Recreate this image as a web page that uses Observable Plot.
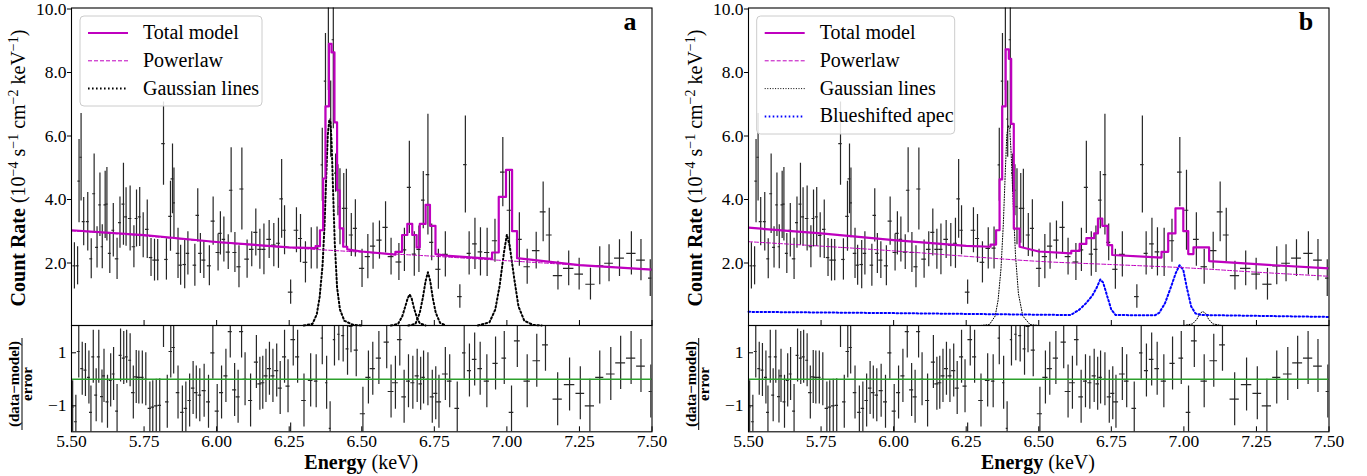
<!DOCTYPE html>
<html><head><meta charset="utf-8">
<script src="https://cdn.jsdelivr.net/npm/d3@7"></script>
<script src="https://cdn.jsdelivr.net/npm/@observablehq/plot@0.6"></script>
<style>
body{margin:0;background:#fff;font-family:"Liberation Serif",serif;}
#wrap{position:relative;width:1367px;height:476px;overflow:hidden;background:#fff;}
#wrap svg{position:absolute;}
#wrap text{font-family:"Liberation Serif",serif;}
</style></head><body><div id="wrap"></div>
<script>
// ---------- tick labels ----------
const xTickValues = [5.5, 5.75, 6.0, 6.25, 6.5, 6.75, 7.0, 7.25, 7.5];
const rateTicks = [2, 4, 6, 8, 10];
const residTicks = [-1, 1];

// ---------- spectrum data (same spectrum in both panels) ----------
const energy = [5.510,5.521,5.526,5.533,5.542,5.556,5.568,5.578,5.588,5.598,
5.606,5.616,5.622,5.632,5.644,5.657,5.667,5.679,5.688,5.702,
5.715,5.724,5.735,5.747,5.761,5.774,5.786,5.797,5.817,5.827,
5.841,5.848,5.853,5.867,5.876,5.890,5.901,5.925,5.935,5.944,
5.956,5.975,5.988,6.005,6.013,6.025,6.040,6.050,6.063,6.077,
6.087,6.105,6.121,6.135,6.149,6.163,6.181,6.197,6.213,6.224,
6.234,6.255,6.275,6.289,6.306,6.326,6.346,6.364,6.375,6.385,
6.393,6.402,6.410,6.418,6.425,6.438,6.447,6.464,6.478,6.501,
6.521,6.539,6.561,6.582,6.601,6.628,6.647,6.664,6.681,6.697,
6.712,6.728,6.741,6.764,6.788,6.838,6.857,6.870,6.890,6.909,
6.932,6.959,6.986,7.009,7.043,7.070,7.101,7.125,7.146,7.176,
7.213,7.249,7.288,7.320,7.352,7.388,7.429,7.462,7.494];
const rate = [1.88,1.88,4.55,5.30,3.27,3.27,2.10,4.15,2.46,3.80,
2.48,3.80,3.82,2.27,3.00,2.10,3.24,3.82,3.42,3.37,
2.48,3.37,3.42,2.84,3.03,2.14,2.06,2.06,5.73,2.08,
3.44,4.62,3.86,2.27,1.90,1.92,2.27,1.90,3.47,2.27,
2.06,1.88,3.29,2.30,2.90,2.71,2.31,4.26,2.30,1.85,
4.30,2.09,2.40,2.93,2.40,2.40,2.71,2.53,2.59,3.99,
3.00,1.05,3.00,2.74,1.99,2.43,2.44,5.06,7.70,10.4,
6.50,9.00,4.80,4.26,3.74,3.69,3.69,2.85,3.06,1.80,
2.17,2.50,2.69,3.09,2.17,2.00,2.38,4.35,2.25,2.40,
3.95,4.75,2.62,1.77,2.24,0.91,5.07,2.27,2.57,2.32,
2.30,2.67,4.83,3.63,2.71,1.85,2.36,3.58,2.85,1.57,
1.80,1.62,1.30,1.88,1.96,2.12,2.27,2.06,1.49];
const rateErr = [0.73,0.60,1.31,1.38,0.76,0.92,0.63,1.25,0.65,1.00,
0.69,1.06,1.16,0.63,0.84,0.65,0.81,1.29,0.92,1.02,
0.66,0.90,0.93,0.71,0.92,0.60,0.66,0.65,1.31,0.65,
1.10,1.10,1.10,0.79,0.63,0.76,0.68,0.66,0.84,0.63,
0.58,0.63,0.76,0.58,0.68,0.71,0.55,1.34,0.63,0.66,
1.29,0.60,0.55,0.74,0.63,0.80,0.60,0.68,0.79,1.24,
0.77,0.38,0.71,0.76,0.65,0.65,0.66,1.15,1.50,3.00,
1.20,2.80,0.60,0.80,1.20,1.10,1.23,0.68,0.90,0.60,
0.70,0.73,0.60,0.81,0.58,0.58,0.68,1.45,0.70,0.73,
0.90,1.90,0.58,0.63,0.71,0.37,1.53,0.68,0.81,0.76,
0.76,0.68,1.09,1.26,0.84,0.55,0.58,0.94,0.84,0.45,
0.55,0.50,0.50,0.60,0.58,0.58,0.68,0.65,0.58];
const halfWidth = [.005,.005,.004,.004,.005,.005,.005,.005,.005,.004,
.004,.004,.004,.005,.005,.006,.005,.005,.005,.006,
.006,.005,.005,.006,.006,.006,.006,.006,.006,.006,
.006,.005,.005,.006,.006,.006,.006,.006,.006,.006,
.007,.007,.007,.007,.006,.006,.007,.006,.007,.007,
.007,.008,.008,.007,.007,.007,.008,.008,.007,.006,
.006,.008,.008,.007,.008,.008,.007,.004,.004,.004,
.003,.004,.004,.004,.004,.005,.005,.007,.007,.009,
.009,.009,.009,.009,.010,.010,.008,.007,.007,.007,
.006,.006,.007,.009,.010,.008,.006,.007,.008,.008,
.009,.009,.008,.008,.010,.011,.013,.010,.010,.016,
.018,.015,.016,.014,.015,.017,.016,.015,.006];

// ---------- residuals (data-model)/error ----------
const residEnergy = [5.504,5.515,5.525,5.537,5.548,5.560,5.567,5.575,5.585,5.594,
5.605,5.612,5.624,5.635,5.645,5.657,5.669,5.680,5.690,5.702,
5.713,5.723,5.732,5.744,5.756,5.770,5.780,5.792,5.804,5.817,
5.830,5.842,5.852,5.867,5.882,5.894,5.907,5.919,5.930,5.942,
5.957,5.972,5.987,6.002,6.017,6.032,6.047,6.062,6.074,6.086,
6.098,6.117,6.137,6.149,6.159,6.170,6.182,6.194,6.207,6.219,
6.234,6.246,6.264,6.279,6.301,6.324,6.343,6.364,6.379,6.391,
6.406,6.421,6.436,6.451,6.463,6.481,6.504,6.523,6.538,6.559,
6.586,6.601,6.616,6.631,6.646,6.661,6.676,6.691,6.703,6.713,
6.728,6.743,6.755,6.766,6.788,6.803,6.829,6.853,6.871,6.889,
6.908,6.931,6.961,6.991,7.016,7.036,7.070,7.103,7.133,7.175,
7.216,7.253,7.286,7.320,7.358,7.392,7.428,7.462,7.496,6.255];
const residValue = [-1.05,-1.6,1.05,0.4,0.35,0.07,-1.25,0.85,-0.6,0.85,
-0.65,0.13,-0.85,-0.04,0.2,-1.2,0.9,0.8,0.85,0.72,
-0.5,0.09,0.07,0.07,0,-1.1,-1.05,-1.0,-0.98,2.2,
-0.85,1.05,1.2,-0.5,-1.25,-1.1,-0.8,-0.33,-0.5,-0.6,
-0.43,-0.85,1.0,-1.2,-0.5,0.13,1.8,-0.4,-0.66,1.8,
0,-0.8,0.65,-0.17,-0.13,0.13,0.4,0.13,0.33,-0.33,
0.85,-0.26,1.5,0.85,-0.8,-0.04,-0.07,1.55,-0.13,-1.85,
1.5,1.7,1.65,1.15,2.0,1.1,-1.3,0.07,0.4,0.8,
1.4,-0.46,-0.13,1.5,-0.66,-0.07,-0.13,0.13,-0.17,0.07,
0,-0.66,-0.53,-0.85,0.2,-0.07,-1.1,1.0,0.33,0.75,
0.4,-0.07,0.6,0.8,-1.25,1.45,-0.07,0.7,1.3,-0.75,
-0.2,-0.53,-1.0,0.07,0.2,0.62,0.8,0.5,-0.46,-2.65];
const residHalf = [.005,.005,.005,.005,.005,.005,.005,.005,.005,.005,
.005,.005,.005,.005,.005,.005,.005,.005,.005,.005,
.006,.006,.006,.006,.006,.006,.006,.006,.006,.006,
.006,.006,.006,.006,.006,.006,.006,.006,.006,.006,
.007,.007,.007,.007,.007,.007,.007,.007,.007,.007,
.007,.007,.007,.007,.007,.007,.007,.007,.007,.007,
.007,.007,.008,.007,.008,.008,.006,.004,.004,.003,
.004,.004,.005,.005,.007,.007,.009,.009,.009,.009,
.009,.010,.010,.008,.008,.007,.007,.007,.006,.006,
.006,.007,.007,.009,.010,.008,.008,.006,.007,.008,
.008,.009,.009,.008,.008,.010,.011,.013,.010,.016,
.018,.015,.016,.014,.015,.017,.016,.015,.006,.008];
const residError = 1;

// ---------- model a ----------
const totalA_E = [5.5,5.75,6.0,6.25,6.341,6.341,6.356,6.356,6.367,6.367,6.375,6.375,6.387,6.387,6.396,6.396,6.406,6.406,6.415,6.415,6.424,6.424,6.436,6.436,6.45,6.45,6.5,6.616,6.616,6.639,6.639,6.657,6.657,6.674,6.674,6.689,6.689,6.70,6.70,6.72,6.72,6.735,6.735,6.754,6.754,6.8,6.949,6.949,6.972,6.972,6.997,6.997,7.018,7.018,7.035,7.035,7.25,7.5];
const totalA_V = [3.0,2.85,2.63,2.46,2.44,2.5,2.5,3.0,3.0,4.63,4.63,6.9,6.9,8.87,8.87,8.6,8.6,6.4,6.4,4.26,4.26,3.06,3.06,2.48,2.48,2.4,2.33,2.23,2.32,2.32,2.85,2.85,3.2,3.2,2.85,2.85,2.46,2.46,3.2,3.2,3.8,3.8,3.14,3.14,2.25,2.19,2.1,2.3,2.3,4.05,4.05,4.9,4.9,2.97,2.97,2.12,1.9,1.76];
const powerlawA_E = [5.5,5.75,6.0,6.25,6.5,6.75,7.0,7.25,7.5];
const powerlawA_V = [2.98,2.82,2.62,2.45,2.31,2.18,2.04,1.9,1.76];
const gaussA_lines = [
  {E:[6.30,6.33,6.345,6.355,6.365,6.372,6.378,6.383,6.388,6.392,6.396,6.401,6.407,6.415,6.425,6.44,6.47,6.5],
   V:[0,0.05,0.35,0.9,1.9,3.2,4.8,6.0,6.45,6.45,5.8,4.3,2.6,1.2,0.5,0.15,0.02,0]},
  {E:[6.60,6.625,6.64,6.65,6.658,6.665,6.672,6.68,6.69,6.70,6.72],
   V:[0,0.05,0.3,0.6,0.85,0.98,0.85,0.55,0.25,0.07,0]},
  {E:[6.66,6.685,6.70,6.71,6.72,6.728,6.736,6.745,6.755,6.77,6.79],
   V:[0,0.05,0.4,0.85,1.4,1.68,1.4,0.85,0.4,0.08,0]},
  {E:[6.90,6.94,6.96,6.975,6.99,7.0,7.01,7.025,7.04,7.06,7.09,7.12],
   V:[0,0.1,0.5,1.25,2.3,2.86,2.5,1.5,0.6,0.15,0.02,0]}
];

// ---------- model b ----------
const totalB_E = [5.5,5.75,6.0,6.25,6.334,6.334,6.353,6.353,6.365,6.365,6.374,6.374,6.386,6.386,6.397,6.397,6.405,6.405,6.414,6.414,6.434,6.434,6.5,6.612,6.612,6.641,6.641,6.664,6.664,6.691,6.691,6.704,6.704,6.719,6.719,6.737,6.737,6.753,6.753,6.923,6.923,6.946,6.946,6.971,6.971,6.998,6.998,7.015,7.015,7.033,7.033,7.087,7.087,7.25,7.5];
const totalB_V = [3.08,2.9,2.69,2.51,2.48,2.55,2.55,3.0,3.0,4.6,4.6,6.9,6.9,8.7,8.7,8.4,8.4,6.35,6.35,3.05,3.05,2.48,2.33,2.27,2.35,2.35,2.57,2.57,2.75,2.75,2.9,2.9,3.37,3.37,3.14,3.14,2.53,2.53,2.22,2.14,2.32,2.32,2.9,2.9,3.69,3.69,2.97,2.97,2.25,2.25,2.46,2.46,2.03,1.93,1.8];
const powerlawB_E = [5.5,5.75,6.0,6.25,6.5,6.75,7.0,7.25,7.5];
const powerlawB_V = [2.64,2.5,2.35,2.18,2.02,1.92,1.82,1.68,1.55];
const gaussB_lines = [
  {E:[6.30,6.33,6.35,6.36,6.37,6.378,6.385,6.39,6.395,6.40,6.405,6.412,6.42,6.43,6.445,6.47,6.5],
   V:[0,0.03,0.3,0.8,1.8,3.2,4.9,6.0,6.3,6.2,5.4,3.8,2.2,1.0,0.3,0.03,0]},
  {E:[7.0,7.03,7.045,7.055,7.065,7.075,7.085,7.1,7.13],
   V:[0,0.05,0.2,0.38,0.44,0.38,0.2,0.05,0]}
];
const apecB_E = [5.5,6.0,6.5,6.61,6.64,6.665,6.685,6.70,6.712,6.722,6.735,6.75,6.765,6.9,6.915,6.935,6.955,6.972,6.985,6.998,7.01,7.025,7.04,7.06,7.5];
const apecB_V = [0.43,0.39,0.34,0.33,0.5,0.72,0.95,1.2,1.45,1.35,0.95,0.5,0.33,0.32,0.4,0.7,1.2,1.65,1.9,1.75,1.2,0.6,0.38,0.33,0.27];

// ---------- legends ----------
const legendA = ["Total model", "Powerlaw", "Gaussian lines"];
const legendB = ["Total model", "Powerlaw", "Gaussian lines", "Blueshifted apec"];

// ---------- build tables ----------
const FONT = "Liberation Serif, serif";
const MAG = "#bf00bf";
const pts = energy.map((e,i)=>({e, v:rate[i], lo:rate[i]-rateErr[i], hi:rate[i]+rateErr[i], x1:e-halfWidth[i], x2:e+halfWidth[i]}));
const res = residEnergy.map((e,i)=>({e, v:residValue[i], lo:residValue[i]-residError, hi:residValue[i]+residError, x1:e-residHalf[i], x2:e+residHalf[i]}));
const pairs = (E,V)=>E.map((e,i)=>({e, v:V[i]}));
const lines = (L)=>L.flatMap((l,k)=>l.E.map((e,i)=>({e, v:l.V[i], id:k})));

const W = 660, ML = 71, MR = 8.5;
const innerW = W-ML-MR;
const TOPH = 326, TOPMT = 7.5, TOPMB = 1;
const RESH = 151, RESMB = 44.7;
const topInnerH = TOPH-TOPMT-TOPMB, resInnerH = RESH-RESMB;
const style = {background:"transparent", fontFamily:FONT, fontSize:"17px", color:"#000", overflow:"visible"};
const barStroke = "#262626";

function topPlot(total, powerlaw, extra){
  return Plot.plot({
    width:W, height:TOPH, marginLeft:ML, marginRight:MR, marginTop:TOPMT, marginBottom:TOPMB,
    style, x:{domain:[5.5,7.5], axis:null}, y:{domain:[0,10], axis:null},
    marks:[
      Plot.ruleX(pts, {x:"e", y1:"lo", y2:"hi", stroke:barStroke, strokeWidth:1.2, clip:true}),
      Plot.ruleY(pts, {y:"v", x1:"x1", x2:"x2", stroke:barStroke, strokeWidth:1.2, clip:true}),
      ...extra,
      Plot.line(powerlaw, {x:"e", y:"v", stroke:MAG, strokeWidth:1, strokeDasharray:"4,2", curve:"monotone-x"}),
      Plot.line(total, {x:"e", y:"v", stroke:MAG, strokeWidth:2.2, clip:true}),
      Plot.tickX(xTickValues, {x:d=>d, insetTop:topInnerH-5, stroke:"#000"}),
      Plot.axisY(rateTicks, {tickSize:4, tickPadding:1, tickFormat:d3.format(".1f"), fontSize:17.5, dy:1}),
      Plot.frame({stroke:"#000", strokeWidth:1.1})
    ]
  });
}
function resPlot(){
  return Plot.plot({
    width:W, height:RESH, marginLeft:ML, marginRight:MR, marginTop:0, marginBottom:RESMB,
    style, x:{domain:[5.5,7.5], axis:null}, y:{domain:[-1.98,2.03], axis:null},
    marks:[
      Plot.ruleX(res, {x:"e", y1:"lo", y2:"hi", stroke:barStroke, strokeWidth:1.2, clip:true}),
      Plot.ruleY(res, {y:"v", x1:"x1", x2:"x2", stroke:barStroke, strokeWidth:1.2, clip:true}),
      Plot.ruleY([0], {stroke:"#2ca02c", strokeWidth:1.4}),
      Plot.tickX(xTickValues, {x:d=>d, insetTop:resInnerH-5, stroke:"#000"}),
      Plot.tickY(residTicks, {y:d=>d, insetRight:innerW-5, stroke:"#000"}),
      Plot.axisX(xTickValues, {tickSize:0, tickPadding:3, tickFormat:d3.format(".2f"), fontSize:17.5}),
      Plot.axisY(residTicks, {tickSize:0, tickPadding:5, fontSize:17.5}),
      Plot.frame({stroke:"#000", strokeWidth:1.1})
    ]
  });
}

const wrap = document.getElementById("wrap");
const panels = [
  {key:"a", left:0,
   total:pairs(totalA_E,totalA_V), powerlaw:pairs(powerlawA_E,powerlawA_V),
   extra:[Plot.line(lines(gaussA_lines), {x:"e", y:"v", z:"id", stroke:"#000", strokeWidth:2, strokeDasharray:"1.6,2.4"})],
   legend:legendA},
  {key:"b", left:676.7,
   total:pairs(totalB_E,totalB_V), powerlaw:pairs(powerlawB_E,powerlawB_V),
   extra:[Plot.line(lines(gaussB_lines), {x:"e", y:"v", z:"id", stroke:"#000", strokeWidth:1, strokeDasharray:"1,1.6"}),
          Plot.line(pairs(apecB_E,apecB_V), {x:"e", y:"v", stroke:"#0000ff", strokeWidth:2, strokeDasharray:"1.6,2.4"})],
   legend:legendB}
];
for (const p of panels){
  const t = topPlot(p.total, p.powerlaw, p.extra);
  t.style.left = p.left+"px"; t.style.top = "0px";
  wrap.appendChild(t);
  const r = resPlot();
  r.style.left = p.left+"px"; r.style.top = TOPH-TOPMB+"px";
  wrap.appendChild(r);
}

// ---------- overlay: titles, labels, legends ----------
const ov = d3.select(wrap).append("svg").attr("width",1367).attr("height",476)
  .style("left","0px").style("top","0px").attr("font-family",FONT);
const txt = (sel)=>sel.append("text").attr("font-family",FONT);
const legendStyles = [
  {stroke:MAG, w:2.2, dash:null},
  {stroke:MAG, w:1, dash:"4,2"},
  null,
  {stroke:"#0000ff", w:2, dash:"1.6,2.4"}
];
for (const p of panels){
  const L = p.left;
  // y title top
  const yt = txt(ov).attr("transform",`translate(${L+25},168) rotate(-90)`)
    .attr("text-anchor","middle").attr("font-size",20);
  yt.append("tspan").attr("font-weight","bold").text("Count Rate");
  yt.append("tspan").text(" (10");
  const sup = (s)=>{ yt.append("tspan").attr("dy",-7).attr("font-size",14).text(s); };
  const back = (s)=>{ yt.append("tspan").attr("dy",7).text(s); };
  sup("−4"); back(" s"); sup("−1"); back(" cm"); sup("−2"); back(" keV"); sup("−1"); back(")");
  // residual title (fraction)
  const g = ov.append("g").attr("transform",`translate(${L+22},384) rotate(-90)`)
    .attr("font-weight","bold").attr("font-size",15).attr("font-family",FONT);
  txt(g).attr("text-anchor","middle").attr("y",-3).text("(data−model)");
  g.append("line").attr("x1",-46).attr("x2",46).attr("y1",0).attr("y2",0).attr("stroke","#000").attr("stroke-width",1);
  txt(g).attr("text-anchor","middle").attr("y",10).text("error");
  // x title
  const xt = txt(ov).attr("x",L+ML+innerW/2).attr("y",469).attr("text-anchor","middle").attr("font-size",20);
  xt.append("tspan").attr("font-weight","bold").text("Energy");
  xt.append("tspan").text(" (keV)");
  // panel letter
  txt(ov).attr("x",L+ML+innerW-15).attr("y",30).attr("text-anchor","end")
    .attr("font-size",26).attr("font-weight","bold").text(p.key);
  // legend
  const n = p.legend.length;
  const lx = L+80, ly = 16, lw = p.key==="a"?182:198, lh = 28*n+6;
  ov.append("rect").attr("x",lx).attr("y",ly).attr("width",lw).attr("height",lh).attr("rx",4)
    .attr("fill","#fff").attr("fill-opacity",0.85).attr("stroke","#cccccc").attr("stroke-width",1);
  p.legend.forEach((name,i)=>{
    const y = ly+17+i*27.8;
    let st = legendStyles[i];
    if (i===2) st = p.key==="a" ? {stroke:"#000", w:2, dash:"1.6,2.4"} : {stroke:"#000", w:1, dash:"1,1.6"};
    ov.append("line").attr("x1",lx+8).attr("x2",lx+48).attr("y1",y).attr("y2",y)
      .attr("stroke",st.stroke).attr("stroke-width",st.w).attr("stroke-dasharray",st.dash);
    txt(ov).attr("x",lx+63).attr("y",y+6).attr("font-size",20).text(name);
  });
}
</script></body></html>
